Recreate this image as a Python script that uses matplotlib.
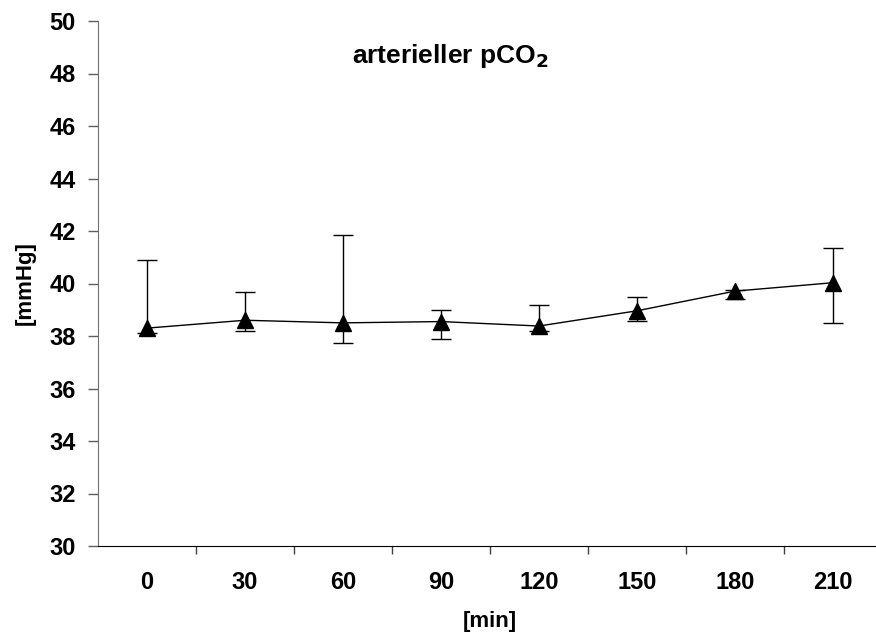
import numpy as np
import matplotlib
matplotlib.use("Agg")
from matplotlib import pyplot as plt

plt.rcParams['font.family'] = ['Liberation Sans', 'DejaVu Sans']

# data
times = ["0", "30", "60", "90", "120", "150", "180", "210"]
mean = [38.3, 38.6, 38.5, 38.55, 38.38, 38.96, 39.71, 40.03]
upper = [40.9, 39.69, 41.85, 38.99, 39.2, 39.47, 39.75, 41.36]
lower = [38.1, 38.19, 37.75, 37.87, 38.2, 38.58, 39.4, 38.5]

x = np.arange(len(times))
err_lo = np.array(mean) - np.array(lower)
err_hi = np.array(upper) - np.array(mean)

fig = plt.figure(figsize=(8.76, 6.33), dpi=100)
ax = fig.add_axes([98 / 876, 1 - 546 / 633, 784 / 876, 525 / 633])

ax.errorbar(x, mean, yerr=[err_lo, err_hi], fmt='none', ecolor='black',
            elinewidth=1, capsize=7, capthick=1, zorder=2)
ax.plot(x, mean, color='black', linewidth=1, marker='^', markersize=11,
        markerfacecolor='black', zorder=3)

ax.set_xlim(-0.5, 7.5)
ax.set_ylim(30, 50)
ax.set_yticks(np.arange(30, 51, 2))
ax.set_xticks(x)
ax.set_xticklabels(times)
ax.set_xticks(np.arange(0.5, 7, 1), minor=True)
ax.tick_params(axis='x', which='major', length=0, pad=18)
ax.tick_params(axis='x', which='minor', length=6, color='#404040', width=1)
ax.tick_params(axis='y', length=7, color='#606060', width=1, pad=9)
for lab in ax.get_xticklabels() + ax.get_yticklabels():
    lab.set_fontsize(17)
    lab.set_fontweight('bold')

ax.spines['top'].set_visible(False)
ax.spines['right'].set_visible(False)
ax.spines['left'].set_color('#707070')
ax.spines['bottom'].set_color('black')

ax.set_xlabel("[min]", fontsize=16, fontweight='bold', labelpad=12)
ax.set_ylabel("[mmHg]", fontsize=16, fontweight='bold', labelpad=10)
ax.annotate("arterieller pCO$_\\mathbf{2}$", xy=(450, 633 - 56),
            xycoords='figure pixels', fontsize=19, fontweight='bold',
            ha='center', va='center')

fig.savefig("out.png", dpi=100)
